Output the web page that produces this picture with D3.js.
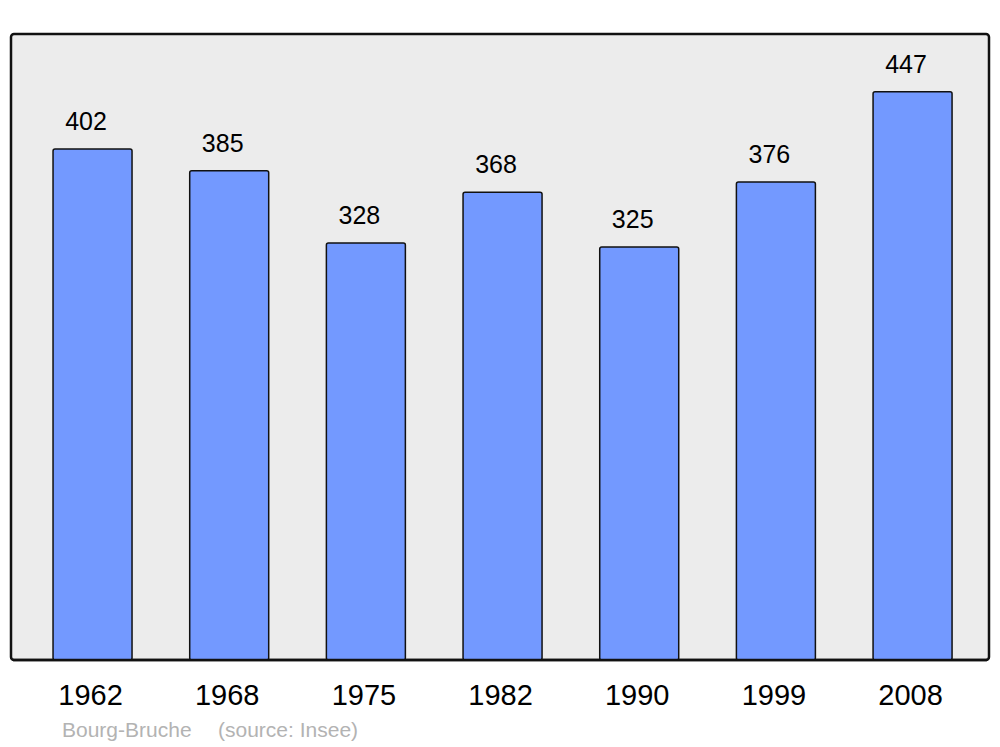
<!DOCTYPE html>
<html><head><meta charset="utf-8">
<script src="https://cdn.jsdelivr.net/npm/d3@7"></script>
<style>body{margin:0;background:#fff}svg{display:block}</style>
</head><body>
<script>
const years = ["1962","1968","1975","1982","1990","1999","2008"];
const population = [402,385,328,368,325,376,447];
const title = "Bourg-Bruche";
const source = "(source: Insee)";

const W = 1000, H = 747;
const svg = d3.select("body").append("svg").attr("width", W).attr("height", H);
const frame = {x0: 11, y0: 34, x1: 989, y1: 660};

const x = d3.scaleBand().domain(years).range([24.2, 980.9]).paddingInner(0.422).paddingOuter(0.211);
const y = d3.scaleLinear().domain([0, 492.5]).range([frame.y1, frame.y0]);

svg.append("rect").attr("x", frame.x0).attr("y", frame.y0)
  .attr("width", frame.x1 - frame.x0).attr("height", frame.y1 - frame.y0)
  .attr("rx", 3).attr("fill", "#ececec").attr("stroke", "#111").attr("stroke-width", 2.5);

svg.selectAll("rect.bar").data(years).enter().append("rect").attr("class", "bar")
  .attr("x", d => x(d)).attr("width", x.bandwidth())
  .attr("y", (d, i) => y(population[i])).attr("height", (d, i) => y(0) - y(population[i]))
  .attr("rx", 2).attr("fill", "#7399ff").attr("stroke", "#111").attr("stroke-width", 1.5);

svg.append("line").attr("x1", frame.x0 + 2).attr("x2", frame.x1 - 2).attr("y1", frame.y1).attr("y2", frame.y1)
  .attr("stroke", "#111").attr("stroke-width", 2.5);

svg.selectAll("text.val").data(years).enter().append("text").attr("class", "val")
  .attr("x", d => x(d) + x.bandwidth() / 2 - 6.5).attr("y", (d, i) => y(population[i]) - 19)
  .attr("text-anchor", "middle").attr("font-family", "Liberation Sans, Arial, sans-serif")
  .attr("font-size", 25).attr("fill", "#000").text((d, i) => population[i]);

const xAxis = d3.axisBottom(x).tickSize(0).tickPadding(0);
const ax = svg.append("g").attr("transform", `translate(-2,${frame.y1})`).call(xAxis);
ax.select(".domain").remove();
ax.selectAll("text").attr("font-family", "Liberation Sans, Arial, sans-serif")
  .attr("font-size", 29).attr("fill", "#000").attr("dy", null).attr("y", 45);

svg.append("text").attr("x", 62).attr("y", 737).attr("font-family", "Liberation Sans, Arial, sans-serif")
  .attr("font-size", 21).attr("fill", "#b3b3b3").text(title);
svg.append("text").attr("x", 218).attr("y", 737).attr("font-family", "Liberation Sans, Arial, sans-serif")
  .attr("font-size", 21).attr("fill", "#b3b3b3").text(source);
</script>
</body></html>
